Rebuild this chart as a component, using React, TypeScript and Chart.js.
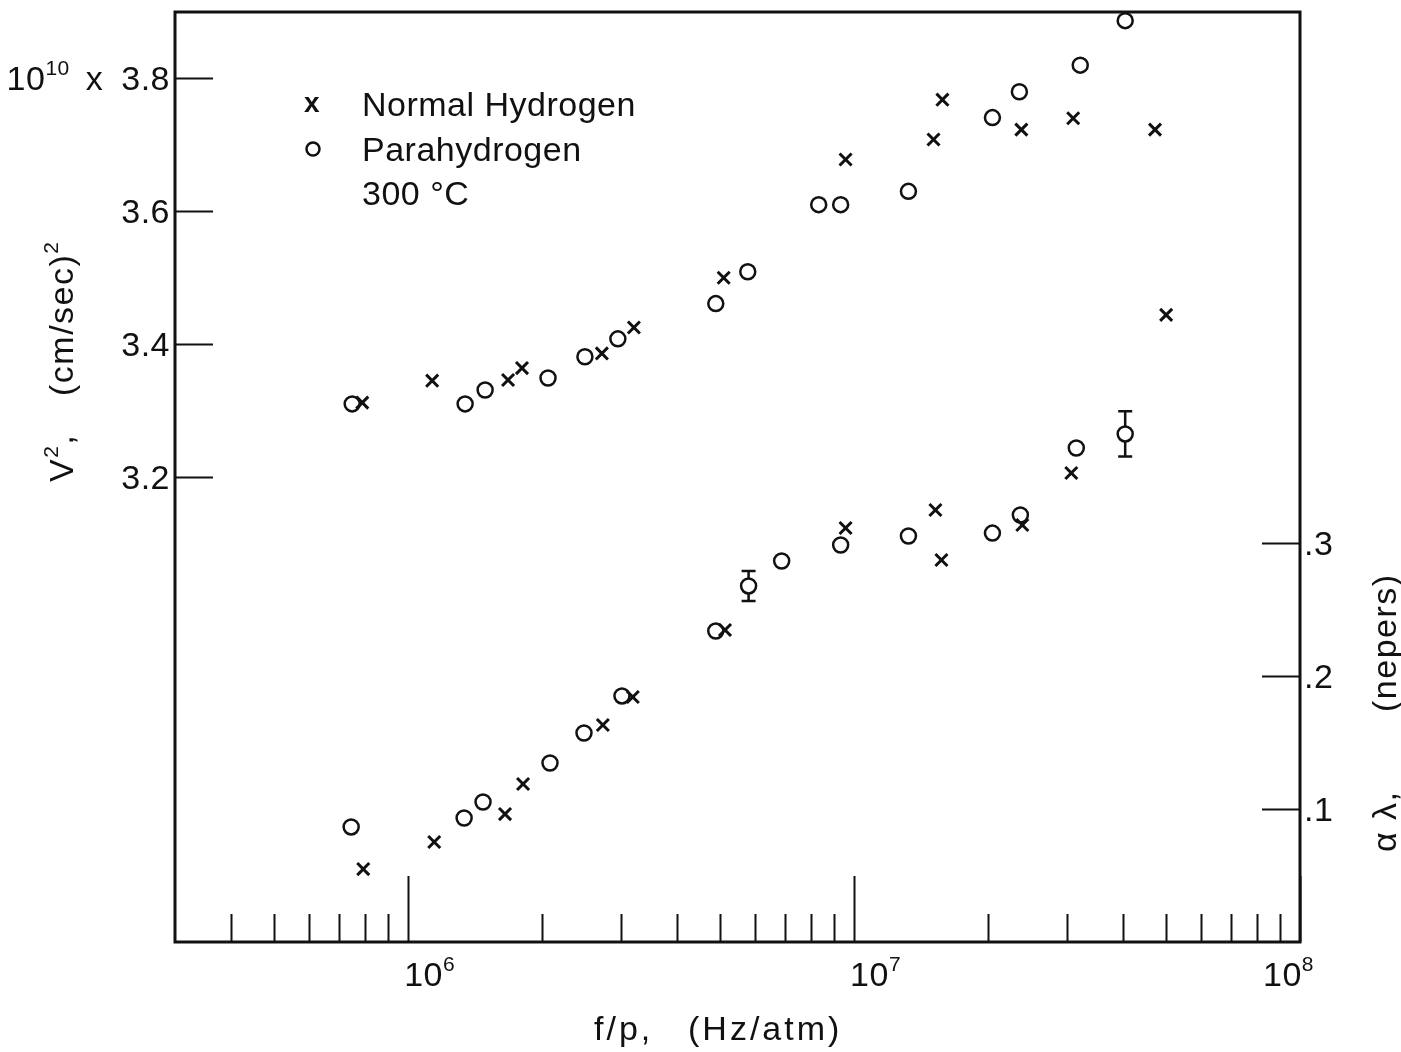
import React, { useEffect, useRef } from "react";
import { Chart, registerables } from "chart.js";

Chart.register(...registerables);

// ---- data (f/p in Hz/atm) ----
const normalV2X = [7.89e5, 1.132e6, 1.675e6, 1.8e6, 2.719e6, 3.208e6, 5.1e6, 9.57e6, 1.507e7, 1.578e7, 2.372e7, 3.1e7, 4.73e7, 5.01e7];
const normalV2Y = [3.312, 3.345, 3.346, 3.364, 3.386, 3.425, 3.5, 3.678, 3.708, 3.768, 3.723, 3.74, 3.723, 3.444];

const paraV2X = [7.49e5, 1.342e6, 1.488e6, 2.059e6, 2.491e6, 2.953e6, 4.896e6, 5.775e6, 8.33e6, 9.33e6, 1.324e7, 2.043e7, 2.348e7, 3.215e7, 4.055e7];
const paraV2Y = [3.31, 3.31, 3.331, 3.349, 3.381, 3.408, 3.461, 3.509, 3.61, 3.61, 3.63, 3.741, 3.78, 3.82, 3.887];

const normalAlphaX = [7.93e5, 1.144e6, 1.649e6, 1.81e6, 2.733e6, 3.19e6, 5.135e6, 9.57e6, 1.522e7, 1.57e7, 2.384e7, 3.07e7];
const normalAlphaY = [0.0549, 0.0753, 0.0963, 0.1189, 0.1633, 0.1844, 0.2348, 0.3116, 0.3252, 0.2875, 0.3139, 0.353];

const paraAlphaX = [7.45e5, 1.335e6, 1.472e6, 2.08e6, 2.479e6, 3.016e6, 4.896e6, 5.8e6, 6.88e6, 9.33e6, 1.324e7, 2.043e7, 2.36e7, 3.15e7, 4.055e7];
const paraAlphaY = [0.0866, 0.0933, 0.1054, 0.1347, 0.1573, 0.1852, 0.2341, 0.268, 0.2868, 0.2988, 0.3056, 0.3078, 0.3214, 0.3718, 0.3824];
const paraAlphaErr = [0, 0, 0, 0, 0, 0, 0, 0.0113, 0, 0, 0, 0, 0, 0, 0.017];

// ---- axes ----
const xMin = 3e5;
const xMax = 1e8;
const xMajorTicks = [1e6, 1e7, 1e8];
const xMajorExponents = ["6", "7", "8"];
const xMinorTicks = [4e5, 5e5, 6e5, 7e5, 8e5, 9e5, 2e6, 3e6, 4e6, 5e6, 6e6, 7e6, 8e6, 9e6, 2e7, 3e7, 4e7, 5e7, 6e7, 7e7, 8e7, 9e7];
const leftMin = 2.5;
const leftMax = 3.9;
const leftTicks = [3.2, 3.4, 3.6, 3.8];
const leftTickLabels = ["3.2", "3.4", "3.6", "3.8"];
const rightMin = 0;
const rightMax = 0.7;
const rightTicks = [0.1, 0.2, 0.3];
const rightTickLabels = [".1", ".2", ".3"];

const legendLabels = ["Normal Hydrogen", "Parahydrogen"];
const legendNote = "300 °C";

const FONT = '"Liberation Sans", Arial, sans-serif';
const INK = "#111";

type Part = [string, boolean];

function setSpacing(ctx: CanvasRenderingContext2D, px: number) {
  (ctx as any).letterSpacing = `${px}px`;
}

function partsWidth(ctx: CanvasRenderingContext2D, parts: Part[], size: number) {
  let w = 0;
  for (const [t, sup] of parts) {
    ctx.font = `${sup ? Math.round(size * 0.62) : size}px ${FONT}`;
    w += ctx.measureText(t).width;
  }
  return w;
}

function drawParts(ctx: CanvasRenderingContext2D, parts: Part[], x: number, y: number, size: number) {
  let cx = x;
  for (const [t, sup] of parts) {
    ctx.font = `${sup ? Math.round(size * 0.62) : size}px ${FONT}`;
    ctx.fillText(t, cx, sup ? y - size * 0.45 : y);
    cx += ctx.measureText(t).width;
  }
  return cx;
}

const paperPlugin = {
  id: "paper",
  afterDatasetsDraw(chart: any) {
    const ctx: CanvasRenderingContext2D = chart.ctx;
    const xs = chart.scales.x;
    const yr = chart.scales.yR;
    ctx.save();
    ctx.strokeStyle = INK;
    ctx.lineWidth = 2.5;
    const r = 7.5;
    paraAlphaErr.forEach((e, i) => {
      if (!e) return;
      const px = xs.getPixelForValue(paraAlphaX[i]);
      const py = yr.getPixelForValue(paraAlphaY[i]);
      const top = yr.getPixelForValue(paraAlphaY[i] + e);
      const bot = yr.getPixelForValue(paraAlphaY[i] - e);
      ctx.beginPath();
      ctx.moveTo(px, top);
      ctx.lineTo(px, py - r);
      ctx.moveTo(px, py + r);
      ctx.lineTo(px, bot);
      ctx.moveTo(px - 7, top);
      ctx.lineTo(px + 7, top);
      ctx.moveTo(px - 7, bot);
      ctx.lineTo(px + 7, bot);
      ctx.stroke();
    });
    ctx.restore();
  },
  afterDraw(chart: any) {
    const ctx: CanvasRenderingContext2D = chart.ctx;
    const a = chart.chartArea;
    const xs = chart.scales.x;
    const yl = chart.scales.yL;
    const yr = chart.scales.yR;
    ctx.save();
    ctx.strokeStyle = INK;
    ctx.fillStyle = INK;

    // frame
    ctx.lineWidth = 3;
    ctx.strokeRect(a.left, a.top, a.right - a.left, a.bottom - a.top);

    // bottom ticks (inward)
    ctx.lineWidth = 2;
    ctx.beginPath();
    xMinorTicks.forEach((v) => {
      const px = Math.round(xs.getPixelForValue(v)) + 0.5;
      ctx.moveTo(px, a.bottom);
      ctx.lineTo(px, a.bottom - 28);
    });
    xMajorTicks.forEach((v) => {
      const px = Math.round(xs.getPixelForValue(v)) + 0.5;
      ctx.moveTo(px, a.bottom);
      ctx.lineTo(px, a.bottom - 66);
    });
    ctx.stroke();

    // left ticks
    ctx.beginPath();
    leftTicks.forEach((v) => {
      const py = Math.round(yl.getPixelForValue(v)) + 0.5;
      ctx.moveTo(a.left, py);
      ctx.lineTo(a.left + 38, py);
    });
    // right ticks
    rightTicks.forEach((v) => {
      const py = Math.round(yr.getPixelForValue(v)) + 0.5;
      ctx.moveTo(a.right, py);
      ctx.lineTo(a.right - 38, py);
    });
    ctx.stroke();

    const size = 34;
    ctx.textBaseline = "alphabetic";
    setSpacing(ctx, 0.5);

    // x tick labels 10^n
    xMajorTicks.forEach((v, i) => {
      const px = xs.getPixelForValue(v);
      const parts: Part[] = [["10", false], [xMajorExponents[i], true]];
      const w = partsWidth(ctx, parts, size);
      let start = px - 4;
      if (start + w > a.right + 14) start = a.right + 14 - w;
      drawParts(ctx, parts, start, a.bottom + 44, size);
    });

    // left tick labels
    leftTicks.forEach((v, i) => {
      const py = yl.getPixelForValue(v);
      ctx.font = `${size}px ${FONT}`;
      ctx.textAlign = "right";
      ctx.fillText(leftTickLabels[i], a.left - 5, py + 12);
      ctx.textAlign = "left";
      if (i === leftTicks.length - 1) {
        const lw = ctx.measureText(leftTickLabels[i]).width;
        const xEnd = a.left - 5 - lw - 18;
        ctx.font = `${size}px ${FONT}`;
        const xw = ctx.measureText("x").width;
        ctx.fillText("x", xEnd - xw, py + 12);
        const parts: Part[] = [["10", false], ["10", true]];
        const pw = partsWidth(ctx, parts, size);
        drawParts(ctx, parts, xEnd - xw - 16 - pw, py + 12, size);
      }
    });

    // right tick labels
    rightTicks.forEach((v, i) => {
      const py = yr.getPixelForValue(v);
      ctx.font = `${size}px ${FONT}`;
      ctx.textAlign = "left";
      ctx.fillText(rightTickLabels[i], a.right + 4, py + 12);
    });

    // legend
    ctx.textAlign = "left";
    ctx.font = `${size}px ${FONT}`;
    const lx = a.left + 187;
    ctx.fillText(legendLabels[0], lx, a.top + 104);
    ctx.fillText(legendLabels[1], lx, a.top + 149);
    ctx.fillText(legendNote, lx, a.top + 193);
    ctx.font = `bold 28px ${FONT}`;
    ctx.textAlign = "center";
    ctx.fillText("x", a.left + 137, a.top + 100);
    ctx.textAlign = "left";
    ctx.lineWidth = 2.5;
    ctx.beginPath();
    ctx.arc(a.left + 138, a.top + 137, 6.5, 0, Math.PI * 2);
    ctx.stroke();

    // x title
    setSpacing(ctx, 3);
    ctx.font = `${size}px ${FONT}`;
    ctx.fillText("f/p,", 594, 1040);
    ctx.fillText("(Hz/atm)", 688, 1040);

    // left y title (rotated)
    setSpacing(ctx, 1.5);
    ctx.save();
    ctx.translate(73, 0);
    ctx.rotate(-Math.PI / 2);
    drawParts(ctx, [["V", false], ["2", true], [",", false]], -482, 0, size);
    drawParts(ctx, [["(cm/sec)", false], ["2", true]], -396, 0, size);
    ctx.restore();

    // right y title (rotated)
    ctx.save();
    ctx.translate(1396, 0);
    ctx.rotate(-Math.PI / 2);
    ctx.font = `${size}px ${FONT}`;
    ctx.fillText("α λ,", -852, 0);
    ctx.fillText("(nepers)", -712, 0);
    ctx.restore();

    setSpacing(ctx, 0);
    ctx.restore();
  },
};

export default function App() {
  const ref = useRef<HTMLCanvasElement | null>(null);

  useEffect(() => {
    document.body.style.margin = "0";
    const canvas = ref.current;
    if (!canvas) return;
    const cross = {
      pointStyle: "crossRot",
      pointRadius: 8.5,
      pointBorderWidth: 3,
      borderColor: INK,
      backgroundColor: INK,
      showLine: false,
      clip: false as any,
    };
    const circ = {
      pointStyle: "circle",
      pointRadius: 7.5,
      pointBorderWidth: 2.5,
      borderColor: INK,
      backgroundColor: "rgba(0,0,0,0)",
      showLine: false,
      clip: false as any,
    };
    const chart = new Chart(canvas, {
      type: "scatter",
      data: {
        datasets: [
          { label: "Normal Hydrogen V²", data: normalV2X.map((x, i) => ({ x, y: normalV2Y[i] })), yAxisID: "yL", ...cross } as any,
          { label: "Parahydrogen V²", data: paraV2X.map((x, i) => ({ x, y: paraV2Y[i] })), yAxisID: "yL", ...circ } as any,
          { label: "Normal Hydrogen αλ", data: normalAlphaX.map((x, i) => ({ x, y: normalAlphaY[i] })), yAxisID: "yR", ...cross } as any,
          { label: "Parahydrogen αλ", data: paraAlphaX.map((x, i) => ({ x, y: paraAlphaY[i] })), yAxisID: "yR", ...circ } as any,
        ],
      },
      options: {
        animation: false,
        responsive: false,
        devicePixelRatio: 1,
        events: [],
        layout: { padding: { left: 175, right: 101, top: 12, bottom: 110 } },
        plugins: { legend: { display: false }, tooltip: { enabled: false } },
        scales: {
          x: { type: "logarithmic", min: xMin, max: xMax, display: false },
          yL: { type: "linear", position: "left", min: leftMin, max: leftMax, display: false },
          yR: { type: "linear", position: "right", min: rightMin, max: rightMax, display: false },
        },
      } as any,
      plugins: [paperPlugin],
    });
    return () => chart.destroy();
  }, []);

  return (
    <div style={{ width: 1401, height: 1052, background: "#fff" }}>
      <canvas ref={ref} width={1401} height={1052} style={{ display: "block", width: 1401, height: 1052 }} />
    </div>
  );
}
